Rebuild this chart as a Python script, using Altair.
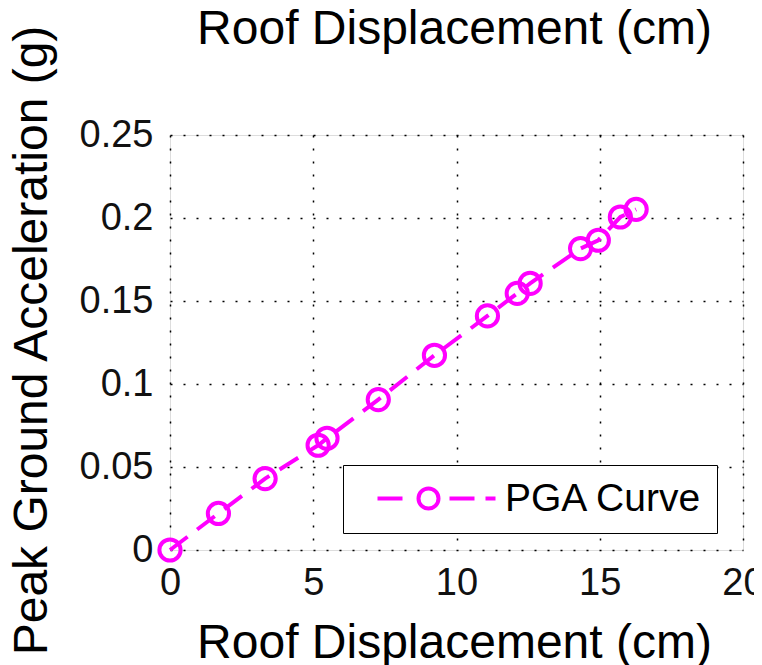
import altair as alt
import pandas as pd

# Data
roof_disp_cm = [0.0, 1.69, 3.32, 5.17, 5.48, 7.27, 9.23, 11.08, 12.12, 12.57, 14.33, 14.95, 15.72, 16.27]
pga_g = [0.0, 0.022, 0.043, 0.0631, 0.0673, 0.0906, 0.1173, 0.141, 0.1546, 0.1606, 0.1816, 0.1866, 0.2006, 0.2052]
series_name = "PGA Curve"

x_ticks = [0, 5, 10, 15, 20]
y_ticks = [0, 0.05, 0.1, 0.15, 0.2, 0.25]

MAGENTA = "#ff00ff"
FONT = "Liberation Sans"

df = pd.DataFrame({"x": roof_disp_cm, "y": pga_g, "series": [series_name] * len(roof_disp_cm)})

x_scale = alt.Scale(domain=[0, 20], nice=False, zero=False)
y_scale = alt.Scale(domain=[0, 0.25], nice=False, zero=False)

grid_style = dict(grid=True, gridColor="black", gridDash=[2, 11], gridWidth=1.5, gridOpacity=1)

x_enc = alt.X(
    "x:Q", scale=x_scale,
    axis=alt.Axis(
        values=x_ticks, format="d", title="Roof Displacement (cm)",
        titleFontSize=48, titleFont=FONT, titleFontWeight="normal", titleColor="black",
        titleBaseline="alphabetic", titleY=107, titleX=284, titleAlign="center",
        labelFontSize=38, labelFont=FONT, labelColor="#111", labelPadding=14,
        ticks=False, tickSize=0, domain=False, labelFlush=False,
        **grid_style,
    ),
)
y_enc = alt.Y(
    "y:Q", scale=y_scale,
    axis=alt.Axis(
        values=y_ticks, format="~g", title="Peak Ground Acceleration (g)",
        titleFontSize=48, titleFont=FONT, titleFontWeight="normal", titleColor="black",
        titleAngle=270, titleBaseline="alphabetic", titleAlign="center",
        titleX=-124, titleY=205,
        labelFontSize=38, labelFont=FONT, labelColor="#111", labelPadding=17,
        ticks=False, tickSize=0, domain=False, labelFlush=False,
        **grid_style,
    ),
)

base = alt.Chart(df)

line = base.mark_line(color=MAGENTA, strokeWidth=4, strokeDash=[22, 12]).encode(x=x_enc, y=y_enc)

# top "axis" only carrying the upper title
top_title = base.mark_point(opacity=0).encode(
    x=alt.X(
        "x:Q", scale=x_scale,
        axis=alt.Axis(
            orient="top", values=x_ticks, labels=False, ticks=False, domain=False, grid=False,
            title="Roof Displacement (cm)",
            titleFontSize=48, titleFont=FONT, titleFontWeight="normal", titleColor="black",
            titleBaseline="alphabetic", titleY=-92, titleX=284, titleAlign="center",
        ),
    ),
    y=alt.Y("y:Q", scale=y_scale),
)

legend_path = "M0.1,0H2.6M4.2,0A1,1,0,1,1,6.2,0A1,1,0,1,1,4.2,0M7.3,0H9.8M10.9,0H11.9"

points = base.mark_point(shape="circle", filled=False, size=450, strokeWidth=4, opacity=1).encode(
    x=alt.X("x:Q", scale=x_scale, axis=None),
    y=alt.Y("y:Q", scale=y_scale),
    color=alt.Color(
        "series:N",
        scale=alt.Scale(domain=[series_name], range=[MAGENTA]),
        legend=alt.Legend(
            title=None, orient="none", legendX=173, legendY=330,
            fillColor="white", strokeColor="black", padding=14,
            labelFontSize=39, labelFont=FONT, labelColor="black", labelOffset=109, labelLimit=500,
            symbolType=legend_path, symbolSize=400, symbolStrokeWidth=4,
            symbolStrokeColor=MAGENTA, symbolFillColor="transparent", symbolOpacity=1,
        ),
    ),
)

chart = (
    alt.layer(line, points, top_title)
    .resolve_axis(x="independent")
    .properties(
        width=573, height=415,
        autosize=alt.AutoSizeParams(type="none"),
        padding={"left": 162, "top": 127, "right": 11, "bottom": 115},
    )
    .configure_view(stroke="black", strokeWidth=2)
    .configure_legend(strokeWidth=2)
    .configure(background="white")
)

chart.save("out.html", embed_options={"renderer": "svg", "actions": False})
